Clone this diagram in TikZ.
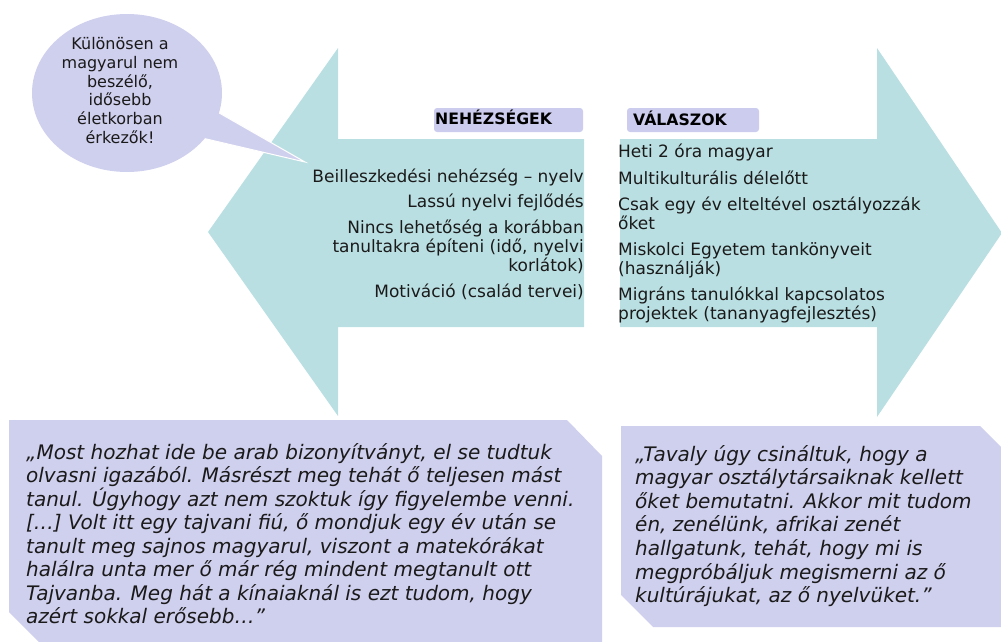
\documentclass[tikz,border=0pt]{standalone}
\usepackage{fontspec}
\setmainfont{DejaVu Sans}
\definecolor{teal}{HTML}{BADFE2}
\definecolor{lav}{HTML}{CFCFEE}
\definecolor{lbl}{HTML}{CCCCEE}
\definecolor{txt}{HTML}{1A1A1A}
\tikzset{
  arrowshape/.style={fill=teal, draw=none},
  quotebox/.style={fill=lav, draw=none},
  ltxt/.style={anchor=base east, inner sep=0pt, text=txt, font=\fontsize{17}{19}\selectfont},
  rtxt/.style={anchor=base west, inner sep=0pt, text=txt, font=\fontsize{17}{19}\selectfont},
  qtxt/.style={anchor=base west, inner sep=0pt, text=txt, font=\fontsize{20}{23.5}\selectfont\itshape},
  btxt/.style={anchor=base, inner sep=0pt, text=txt, font=\fontsize{16}{18.6}\selectfont},
  lbltxt/.style={anchor=base west, inner sep=0pt, text=black, font=\fontsize{15.7}{18}\selectfont\bfseries},
  lblbox/.style={fill=lbl, draw=none, rounded corners=3pt}
}
\begin{document}
\begin{tikzpicture}[x=1pt,y=-1pt]
\useasboundingbox (0,0) rectangle (1001,642);
\clip (0,0) rectangle (1001,642);
% arrows
\path[arrowshape] (584,139) -- (338,139) -- (338,48) -- (208,232) -- (338,416) -- (338,327) -- (584,327) -- cycle;
\path[arrowshape] (620,139) -- (877,139) -- (877,48) -- (1002,233) -- (877,417) -- (877,327) -- (620,327) -- cycle;
% speech bubble
\path[fill=lav, draw=white, line width=1pt] (200,102) -- (305,162) -- (185,134) -- cycle;
\path[fill=lav] (127,93) ellipse [x radius=95, y radius=79];
\node[btxt] (b1) at (120,50) {Különösen a};
\node[btxt] (b2) at (120,68.6) {magyarul nem};
\node[btxt] (b3) at (120,87.2) {beszélő,};
\node[btxt] (b4) at (120,105.8) {idősebb};
\node[btxt] (b5) at (120,124.4) {életkorban};
\node[btxt] (b6) at (120,143) {érkezők!};
% labels
\path[lblbox] (434,108) rectangle (583,132);
\node[lbltxt] (nehez) at (435,124.5) {NEHÉZSÉGEK};
\path[lblbox] (627,108) rectangle (759,132);
\node[lbltxt] (valasz) at (633,125.5) {VÁLASZOK};
% left items
\node[ltxt] (l1) at (584,182) {Beilleszkedési nehézség – nyelv};
\node[ltxt] (l2) at (584,207.5) {Lassú nyelvi fejlődés};
\node[ltxt] (l3a) at (584,233) {Nincs lehetőség a korábban};
\node[ltxt] (l3b) at (584,252) {tanultakra építeni (idő, nyelvi};
\node[ltxt] (l3c) at (584,271) {korlátok)};
\node[ltxt] (l4) at (584,297) {Motiváció (család tervei)};
% right items
\node[rtxt] (r1) at (618,157) {Heti 2 óra magyar};
\node[rtxt] (r2) at (618,184) {Multikulturális délelőtt};
\node[rtxt] (r3a) at (618,210) {Csak egy év elteltével osztályozzák};
\node[rtxt] (r3b) at (618,229) {őket};
\node[rtxt] (r4a) at (618,255) {Miskolci Egyetem tankönyveit};
\node[rtxt] (r4b) at (618,274) {(használják)};
\node[rtxt] (r5a) at (618,300) {Migráns tanulókkal kapcsolatos};
\node[rtxt] (r5b) at (618,319) {projektek (tananyagfejlesztés)};
% bottom boxes
\path[quotebox] (9,420) -- (567,420) -- (602,456) -- (602,650) -- (47,650) -- (9,612) -- cycle;
\path[quotebox] (621,426) -- (980,426) -- (1010,456) -- (1010,627) -- (653,627) -- (621,595) -- cycle;
% left quote
\node[qtxt] (q1) at (26,459) {„Most hozhat ide be arab bizonyítványt, el se tudtuk};
\node[qtxt] (q2) at (26,482.5) {olvasni igazából. Másrészt meg tehát ő teljesen mást};
\node[qtxt] (q3) at (26,506) {tanul. Úgyhogy azt nem szoktuk így figyelembe venni.};
\node[qtxt] (q4) at (26,529.5) {[…] Volt itt egy tajvani fiú, ő mondjuk egy év után se};
\node[qtxt] (q5) at (26,553) {tanult meg sajnos magyarul, viszont a matekórákat};
\node[qtxt] (q6) at (26,576.5) {halálra unta mer ő már rég mindent megtanult ott};
\node[qtxt] (q7) at (26,600) {Tajvanba. Meg hát a kínaiaknál is ezt tudom, hogy};
\node[qtxt] (q8) at (26,623.5) {azért sokkal erősebb…”};
% right quote
\node[qtxt] (p1) at (635,461) {„Tavaly úgy csináltuk, hogy a};
\node[qtxt] (p2) at (635,484.6) {magyar osztálytársaiknak kellett};
\node[qtxt] (p3) at (635,508.2) {őket bemutatni. Akkor mit tudom};
\node[qtxt] (p4) at (635,531.8) {én, zenélünk, afrikai zenét};
\node[qtxt] (p5) at (635,555.4) {hallgatunk, tehát, hogy mi is};
\node[qtxt] (p6) at (635,579) {megpróbáljuk megismerni az ő};
\node[qtxt] (p7) at (635,602.6) {kultúrájukat, az ő nyelvüket.”};
\end{tikzpicture}
\end{document}
